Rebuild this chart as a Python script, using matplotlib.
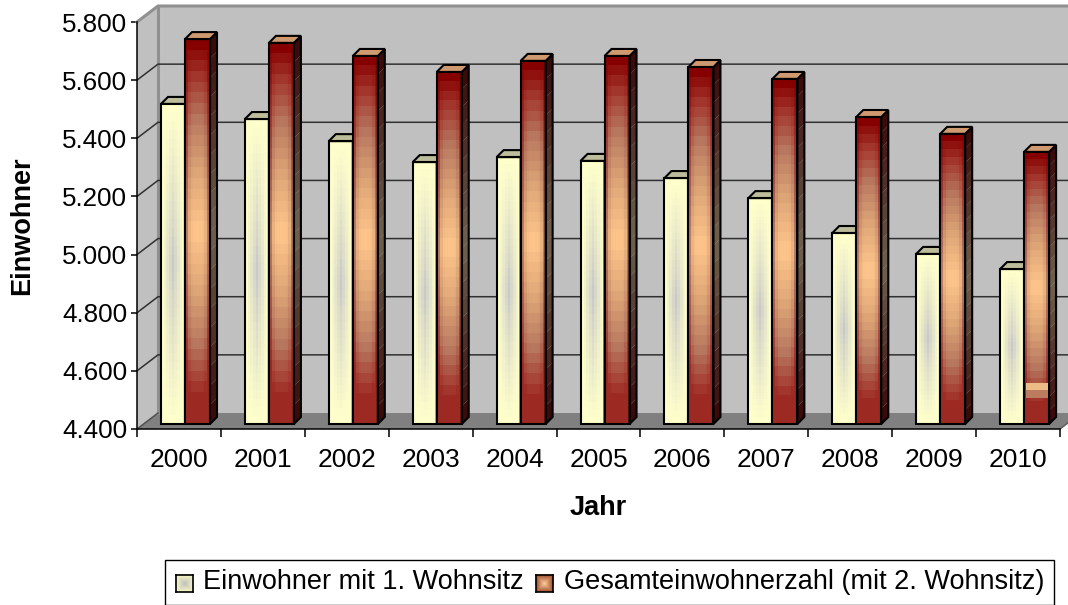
import numpy as np
import matplotlib
matplotlib.use('Agg')
import matplotlib.pyplot as plt
from matplotlib.colors import to_rgb
from matplotlib.patches import Patch, Polygon

years = ['2000', '2001', '2002', '2003', '2004', '2005', '2006', '2007', '2008', '2009', '2010']
erstwohnsitz = [5501, 5449, 5373, 5301, 5318, 5305, 5246, 5177, 5057, 4985, 4933]
gesamt = [5724, 5711, 5666, 5611, 5649, 5666, 5628, 5587, 5456, 5398, 5336]
y_ticks = [4400, 4600, 4800, 5000, 5200, 5400, 5600, 5800]
y_labels = ['4.400', '4.600', '4.800', '5.000', '5.200', '5.400', '5.600', '5.800']
legend_labels = ['Einwohner mit 1. Wohnsitz', 'Gesamteinwohnerzahl (mit 2. Wohnsitz)']

plt.rcParams['font.family'] = ['Liberation Sans', 'DejaVu Sans']

W, H = 1068, 605
fig = plt.figure(figsize=(W / 100, H / 100), dpi=100)
# Vorderkante des Diagramms in Pixeln
ax = fig.add_axes([137 / W, 1 - 429 / H, 923 / W, 407 / H])
ax.set_xlim(-0.5, 10.5)
ax.set_ylim(4400, 5800)

px_x = 11 / 923
px_y = 1400 / 407
wall_dx, wall_dy = 21 * px_x, 16 * px_y
bar_dx, bar_dy = 7 * px_x, 7 * px_y
lift = 5 * px_y
base = 4400 + lift
x0, x1 = -0.5, 10.5


def poly(pts, fc, ec='none', lw=0, z=1):
    ax.add_patch(Polygon(pts, closed=True, fc=fc, ec=ec, lw=lw, zorder=z, clip_on=False, joinstyle='miter'))


def ramp(t, stops):
    # stops: Liste aus (Position, Farbe)
    pos = [p for p, _ in stops]
    cols = np.array([to_rgb(c) for _, c in stops])
    return np.dstack([np.interp(t, pos, cols[:, k]) for k in range(3)])


def bands(stops, rows=36, cols=9, side_fade=0.6, exp=4, floor=0.0):
    # rechteckiger Verlauf in Stufen
    v = np.abs(np.linspace(-1, 1, rows))[:, None]
    u = np.abs(np.linspace(-1, 1, cols))[None, :]
    t = (1 - v) * (1 - side_fade * u ** exp)
    # unten wird die Saeule nicht ganz so dunkel
    t[rows // 2:] = np.maximum(t[rows // 2:], floor)
    return ramp(t, stops)


def swatch(stops, n=9):
    u = np.abs(np.linspace(-1, 1, n))
    return ramp(1 - np.maximum(u[:, None], u[None, :]), stops)


def bar(left, width, value, grad, side_fc, side_add, top_fc, z):
    right = left + width
    top = value + lift
    ax.imshow(grad, extent=[left, right, base, top], aspect='auto', interpolation='nearest',
              origin='upper', zorder=z, clip_on=False)
    # Seite mit Verlauf
    n = 20
    ys = np.linspace(base, top, n + 1)
    for i in range(n):
        f = 1 - abs((i + 0.5) / n * 2 - 1)
        c = np.clip(np.array(to_rgb(side_fc)) + np.array(side_add) * f, 0, 1)
        poly([(right, ys[i]), (right + bar_dx, ys[i] + bar_dy), (right + bar_dx, ys[i + 1] + bar_dy),
              (right, ys[i + 1])], c, z=z)
    poly([(right, base), (right + bar_dx, base + bar_dy), (right + bar_dx, top + bar_dy), (right, top)],
         'none', ec='black', lw=1.5, z=z + 0.1)
    poly([(left, top), (left + bar_dx, top + bar_dy), (right + bar_dx, top + bar_dy), (right, top)],
         top_fc, ec='black', lw=1.5, z=z + 0.1)
    poly([(left, base), (right, base), (right, top), (left, top)], 'none', ec='black', lw=1.5, z=z + 0.2)


# Waende und Boden
poly([(x0 + wall_dx, 4400 + wall_dy), (x1 + wall_dx, 4400 + wall_dy), (x1 + wall_dx, 5800 + wall_dy),
      (x0 + wall_dx, 5800 + wall_dy)], '#C0C0C0', z=1)
poly([(x0, 4400), (x0 + wall_dx, 4400 + wall_dy), (x0 + wall_dx, 5800 + wall_dy), (x0, 5800)], '#C0C0C0', z=1)
poly([(x0, 4400), (x1, 4400), (x1 + wall_dx, 4400 + wall_dy), (x0 + wall_dx, 4400 + wall_dy)], '#808080', z=2)
ax.plot([x0, x0 + wall_dx, x1 + wall_dx], [5800, 5800 + wall_dy, 5800 + wall_dy], color='#909090', lw=2.2,
        zorder=2, clip_on=False)
ax.plot([x0 + wall_dx, x0 + wall_dx], [4400 + wall_dy, 5800 + wall_dy], color='#909090', lw=2.2, zorder=2,
        clip_on=False)
ax.plot([x1, x1 + wall_dx], [4400, 4400 + wall_dy], color='#606060', lw=1.1, zorder=2, clip_on=False)
for t in y_ticks[1:-1]:
    ax.plot([x0, x0 + wall_dx, x1 + wall_dx], [t, t + wall_dy, t + wall_dy], color='#303030', lw=1.1,
            zorder=2, clip_on=False)
ax.plot([x0, x0 + wall_dx], [4400, 4400 + wall_dy], color='#505050', lw=1.1, zorder=2, clip_on=False)

yellow_stops = [(0, '#FFFFCC'), (1, '#C8C8C8')]
red_stops = [(0, '#860000'), (0.15, '#A03028'), (0.4, '#B87860'), (0.7, '#E0A878'), (1, '#FFC68C')]
yellow = bands(yellow_stops, side_fade=1.0, exp=1)
red = bands(red_stops, side_fade=0.55, exp=4, floor=0.13)

w1 = 24 * px_x
w2 = 25 * px_x
off = (161 - 137) * px_x - 0.5
for i in range(len(years)):
    l1 = i + off
    bar(l1, w1, erstwohnsitz[i], yellow, '#FFFFCC', (0, 0, 0), '#BDBD9B', 3 + i)
    bar(l1 + w1, w2, gesamt[i], red, '#380606', (0.22, 0.36, 0.28), '#D09A70', 3.5 + i)

# heller Fleck in der letzten Saeule
ax.imshow([[to_rgb('#EDBB86')], [to_rgb('#BC7C60')]],
          extent=[10 + off + w1 + 2 * px_x, 10 + off + w1 + w2 - 2 * px_x, 4506, 4555],
          aspect='auto', interpolation='nearest', zorder=20, clip_on=False)
ax.set_xlim(-0.5, 10.5)
ax.set_ylim(4400, 5800)

for s in ['top', 'right']:
    ax.spines[s].set_visible(False)
for s in ['left', 'bottom']:
    ax.spines[s].set_linewidth(1.1)
    ax.spines[s].set_zorder(30)
ax.patch.set_visible(False)
ax.set_yticks(y_ticks, y_labels, fontsize=18.7)
ax.set_xticks(np.arange(-0.5, 11), [''] * 12)
ax.set_xticks(np.arange(11), years, fontsize=19, minor=True)
ax.tick_params(axis='x', which='major', length=6, width=1.1)
ax.tick_params(axis='x', which='minor', length=0, pad=14)
ax.tick_params(axis='y', length=4, width=1.1, pad=3)
fig.text(598 / W, 1 - 508 / H, 'Jahr', fontsize=19.5, fontweight='bold', ha='center', va='center')
fig.text(22 / W, 1 - 226 / H, 'Einwohner', fontsize=19.5, fontweight='bold', rotation=90, ha='center', va='center')

handles = [Patch(fc='#D8D8B8', ec='none', lw=0), Patch(fc='#D89070', ec='none', lw=0)]
fig.legend(handles, legend_labels, ncol=2, loc='lower left', bbox_to_anchor=(165 / W, 0.0),
           fontsize=19.5, frameon=True, fancybox=False, edgecolor='black', framealpha=1,
           handlelength=0.67, handleheight=0.3, handletextpad=0.37, columnspacing=0.44, borderaxespad=0,
           borderpad=0.36)

# Verlauf in den Legendenfeldern
swatch_stops = [[(0, '#F4F4C4'), (1, '#BEBEBE')], [(0, '#A85A38'), (1, '#FFD09A')]]
for sx, stops in zip([176, 536], swatch_stops):
    sw = fig.add_axes([sx / W, 1 - 592 / H, 17 / W, 17 / H], zorder=40)
    sw.imshow(swatch(stops), aspect='auto', interpolation='bilinear')
    sw.set_xticks([])
    sw.set_yticks([])
    for s in sw.spines.values():
        s.set_linewidth(1.2)

fig.savefig('out.png', dpi=100)
